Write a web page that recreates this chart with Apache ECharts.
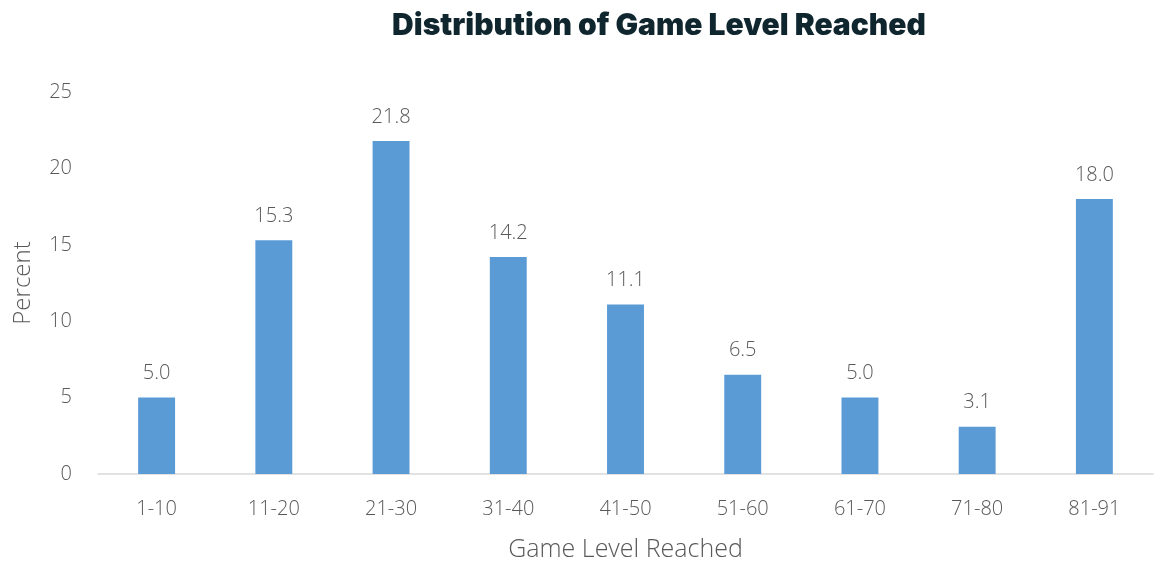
<!DOCTYPE html>
<html>
<head>
<meta charset="utf-8">
<script src="https://cdn.jsdelivr.net/npm/echarts@6/dist/echarts.min.js"></script>
<style>html,body{margin:0;padding:0;background:#fff;}#chart{width:1156px;height:568px;}</style>
</head>
<body>
<div id="chart"></div>
<script>
const categories = ["1-10","11-20","21-30","31-40","41-50","51-60","61-70","71-80","81-91"];
const percentValues = [5.0, 15.3, 21.8, 14.2, 11.1, 6.5, 5.0, 3.1, 18.0];
const yTicks = [0, 5, 10, 15, 20, 25];

const FONT = "'Open Sans'";
const chart = echarts.init(document.getElementById('chart'), null, {renderer:'canvas'});
chart.setOption({
  animation: false,
  backgroundColor: '#ffffff',
  title: {
    text: 'Distribution of Game Level Reached',
    left: 654, top: 6, textAlign: 'center',
    textStyle: {fontFamily: 'Inter', fontWeight: 900, fontSize: 30, color: '#10262e'}
  },
  grid: {left: 98, right: 3, top: 92, bottom: 94, containLabel: false},
  xAxis: {
    type: 'category', data: categories,
    name: 'Game Level Reached', nameLocation: 'middle', nameGap: 63,
    nameTextStyle: {fontFamily: FONT, fontWeight: 300, fontSize: 25, color: '#595959'},
    axisLine: {lineStyle: {color: '#d9d9d9', width: 1.5}},
    axisTick: {show: false},
    axisLabel: {fontFamily: FONT, fontWeight: 300, fontSize: 20, color: '#595959', margin: 25}
  },
  yAxis: {
    type: 'value', min: yTicks[0], max: yTicks[yTicks.length-1], interval: 5,
    name: 'Percent', nameLocation: 'middle', nameGap: 63,
    nameTextStyle: {fontFamily: FONT, fontWeight: 300, fontSize: 24, color: '#595959'},
    axisLine: {show: false}, axisTick: {show: false},
    splitLine: {show: false},
    axisLabel: {fontFamily: FONT, fontWeight: 300, fontSize: 20, color: '#595959', margin: 26}
  },
  series: [{
    type: 'bar', data: percentValues, barWidth: '31.5%',
    itemStyle: {color: '#5b9bd5'},
    label: {show: true, position: 'top', distance: 14,
      formatter: p => p.value.toFixed(1),
      fontFamily: FONT, fontWeight: 300, fontSize: 20, color: '#595959'}
  }]
});
</script>
</body>
</html>
